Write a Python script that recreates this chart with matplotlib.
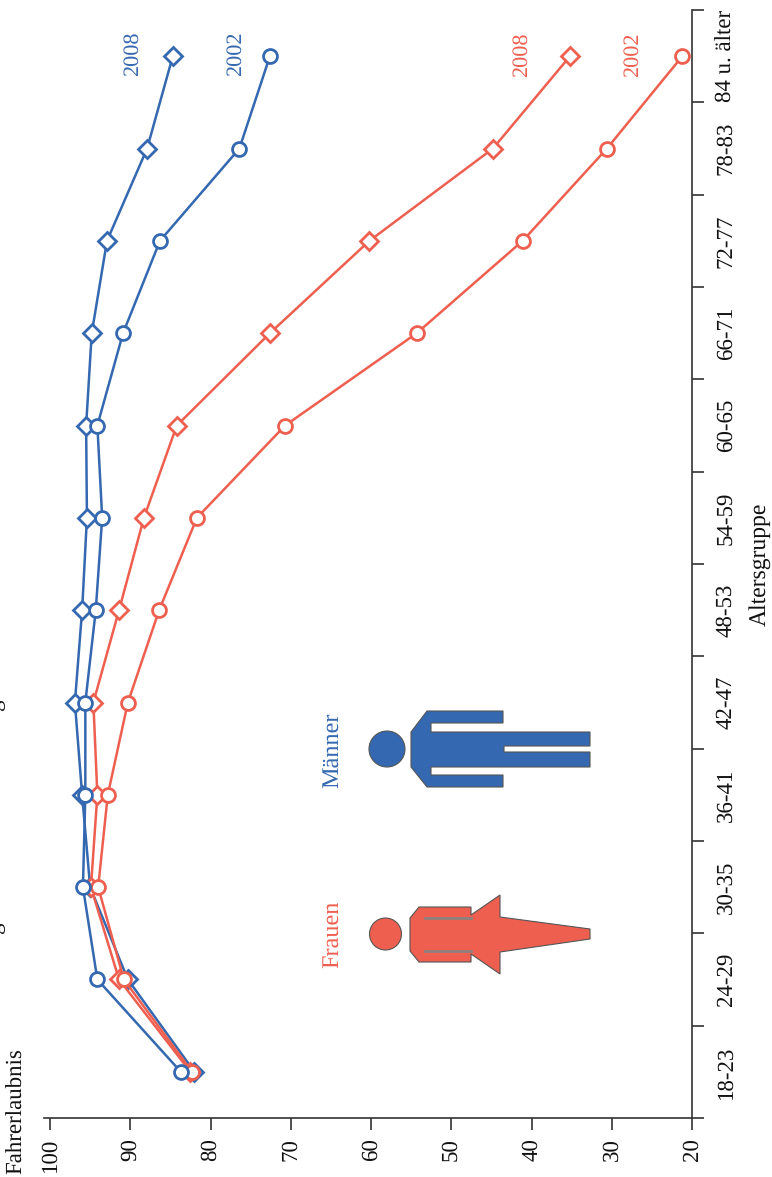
import matplotlib
matplotlib.use('Agg')
import matplotlib.pyplot as plt
import matplotlib.transforms as mtrans
from matplotlib.patches import Circle, Polygon

plt.rcParams['font.family'] = ['Liberation Serif', 'DejaVu Serif']
plt.rcParams['text.hinting'] = 'no_hinting'

# Data
groups = ['18-23', '24-29', '30-35', '36-41', '42-47', '48-53',
          '54-59', '60-65', '66-71', '72-77', '78-83', '84 u. älter']
men2002 = [83.7, 94.1, 95.9, 95.6, 95.6, 94.3, 93.5, 94.1, 90.9, 86.3, 76.4, 72.6]
men2008 = [82.0, 90.3, 95.0, 96.0, 96.9, 96.0, 95.4, 95.5, 94.8, 92.9, 87.9, 84.7]
women2002 = [82.3, 90.8, 94.0, 92.8, 90.3, 86.4, 81.7, 70.7, 54.3, 41.1, 30.6, 21.2]
women2008 = [82.5, 91.4, 94.9, 94.1, 94.6, 91.4, 88.3, 84.2, 72.6, 60.2, 44.8, 35.2]
valueTicks = [100, 90, 80, 70, 60, 50, 40, 30, 20]

BLUE = '#3468b0'
RED = '#ee5f4f'
DARK = '#333333'
W, H = 772, 1177

fig = plt.figure(figsize=(W / 100, H / 100), dpi=100, facecolor='white')
ax = fig.add_axes([44 / W, 1 - 1118 / H, (692 - 44) / W, (1118 - 10) / H])

y = list(range(len(groups)))


def draw(values, color, marker, size):
    ax.plot(values, y, color=color, lw=1.8, marker=marker, ms=size, mfc='white',
            mec=color, mew=2, clip_on=False)


# same drawing order as the original
draw(men2008, BLUE, 'D', 9)
draw(women2008, RED, 'D', 9)
draw(women2002, RED, 'o', 10)
draw(men2002, BLUE, 'o', 10)

ax.set_xlim(100.75, 20)
ax.set_ylim(-0.5, 11.5)

ax.spines['top'].set_visible(False)
ax.spines['left'].set_visible(False)
for s in ['bottom', 'right']:
    ax.spines[s].set_color(DARK)
    ax.spines[s].set_linewidth(1.2)

ax.set_xticks(valueTicks)
ax.set_xticklabels(valueTicks, rotation=90, fontsize=16.5, color='#111111')
ax.tick_params(axis='x', length=8.5, width=1.2, color=DARK, pad=6)

ax.yaxis.tick_right()
ax.set_yticks([i - 0.5 for i in range(len(groups) + 1)])
ax.set_yticklabels([])
ax.set_yticks(y, minor=True)
ax.set_yticklabels(groups, minor=True, rotation=90, va='center', fontsize=16.5, color='#111111')
ax.tick_params(axis='y', which='major', length=8.5, width=1.2, color=DARK)
ax.tick_params(axis='y', which='minor', length=0, pad=17)

# everything else is placed in picture pixels
px = mtrans.Affine2D().scale(1 / W, -1 / H).translate(0, 1) + fig.transFigure


def label(x, y, s, color='#111111', size=16.5):
    fig.text(x, y, s, transform=px, rotation=90, ha='center', va='center',
             color=color, fontsize=size)


label(760, 564, 'Altersgruppe', size=17)
label(17, 1111, 'Fahrerlaubnis')
label(133, 54, '2008', BLUE, 16)
label(236, 54, '2002', BLUE, 16)
label(522, 55, '2008', RED, 16)
label(633, 55, '2002', RED, 16)
label(332, 750, 'Männer', BLUE, 17.5)
label(332, 934, 'Frauen', RED, 17.5)

# descenders of a title line that the reference itself cuts off at the left edge
for gy in (705, 928):
    fig.text(0, gy, 'g', transform=px, rotation=90, rotation_mode='anchor',
             ha='center', va='baseline', color='#111111', fontsize=16.5)

# pictograms
man = [(411, 732), (427, 711), (503, 711), (503, 723), (431, 723), (431, 732),
       (590, 732), (590, 746), (504, 746), (504, 752), (590, 752), (590, 767),
       (431, 767), (431, 775), (503, 775), (503, 787), (427, 787), (411, 767)]
woman = [(410, 918), (419, 907), (471, 907), (471, 915), (500, 895), (500, 917),
         (590, 929), (590, 939), (500, 952), (500, 974), (471, 954), (471, 962),
         (419, 962), (410, 951)]
edge = '#555555'
fig.add_artist(Polygon(man, transform=px, fc=BLUE, ec=edge, lw=0.8))
fig.add_artist(Circle((387, 749), 18, transform=px, fc=BLUE, ec=edge, lw=0.8))
fig.add_artist(Polygon(woman, transform=px, fc=RED, ec=edge, lw=0.8))
fig.add_artist(Circle((385.5, 934), 16, transform=px, fc=RED, ec=edge, lw=0.8))
for slit in (918, 951):
    fig.add_artist(plt.Line2D([425, 471], [slit, slit], transform=px, color='#8f7f7d', lw=2))

fig.savefig('out.png', dpi=100)
